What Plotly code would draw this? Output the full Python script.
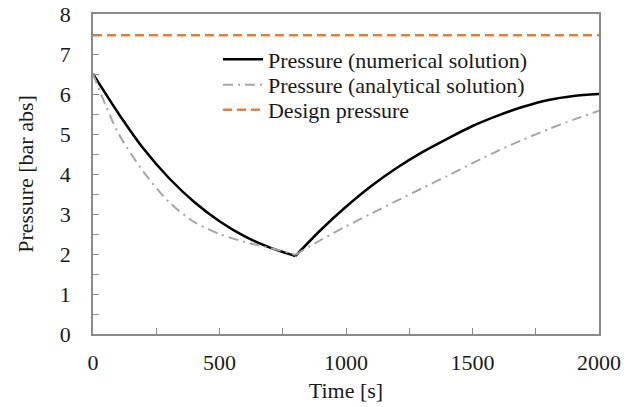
import plotly.graph_objects as go

# Numerical solution: time [s] and pressure [bar abs]
# (discharge phase up to 800 s, then recharge phase)
t_num_down = [0, 100, 200, 300, 400, 500, 600, 700, 800]
p_num_down = [6.5, 5.52, 4.63, 3.9, 3.3, 2.82, 2.44, 2.16, 1.95]
t_num_up = [800, 900, 1000, 1100, 1200, 1300, 1400, 1500, 1600, 1700, 1800, 1900, 2000]
p_num_up = [1.95, 2.6, 3.18, 3.7, 4.15, 4.54, 4.88, 5.2, 5.46, 5.68, 5.85, 5.95, 6.0]

# Analytical solution
t_ana_down = [0, 50, 100, 200, 300, 400, 500, 600, 700, 800]
p_ana_down = [6.5, 5.72, 5.02, 4.05, 3.3, 2.8, 2.5, 2.3, 2.15, 1.98]
t_ana_up = [800, 900, 1000, 1100, 1200, 1300, 1400, 1500, 1600, 1700, 1800, 1900, 2000]
p_ana_up = [1.98, 2.35, 2.69, 3.01, 3.33, 3.64, 3.95, 4.27, 4.58, 4.86, 5.12, 5.36, 5.58]

# Design pressure
t_design = [0, 2000]
p_design = [7.47, 7.47]

FONT = "Liberation Serif, Times New Roman, serif"
AXIS_GREY = "#8a8a8a"
FS = 22

num_line = dict(color="black", width=2.5, shape="spline", smoothing=0.8)
ana_line = dict(color="#a6a6a6", width=2, dash="10px,5px,2px,5px",
                shape="spline", smoothing=0.8)

fig = go.Figure()
fig.add_trace(go.Scatter(
    x=t_num_down, y=p_num_down, mode="lines", name="Pressure (numerical solution)",
    line=num_line, legend="legend", legendgroup="num"))
fig.add_trace(go.Scatter(
    x=t_num_up, y=p_num_up, mode="lines", name="Pressure (numerical solution)",
    line=num_line, legendgroup="num", showlegend=False))
fig.add_trace(go.Scatter(
    x=t_ana_down, y=p_ana_down, mode="lines", name="Pressure (analytical solution)",
    line=ana_line, legend="legend2", legendgroup="ana"))
fig.add_trace(go.Scatter(
    x=t_ana_up, y=p_ana_up, mode="lines", name="Pressure (analytical solution)",
    line=ana_line, legendgroup="ana", showlegend=False))
fig.add_trace(go.Scatter(
    x=t_design, y=p_design, mode="lines", name="Design pressure",
    line=dict(color="#ed7d31", width=2.5, dash="9px,5px"), legend="legend3"))

leg_common = dict(x=0.247, xanchor="left", yanchor="middle",
                  bgcolor="rgba(0,0,0,0)", font=dict(size=FS, family=FONT),
                  itemwidth=40)

fig.update_layout(
    width=635, height=407,
    margin=dict(l=93, r=36, t=14, b=73),
    paper_bgcolor="white", plot_bgcolor="white",
    font=dict(family=FONT, size=FS, color="#1a1a1a"),
    showlegend=True,
    legend=dict(y=0.858, **leg_common),
    legend2=dict(y=0.778, **leg_common),
    legend3=dict(y=0.70, **leg_common),
)
fig.update_xaxes(
    range=[0, 2000], dtick=500, tick0=0,
    ticks="inside", ticklen=6, tickcolor=AXIS_GREY,
    minor=dict(dtick=250, ticks="inside", ticklen=6, tickcolor=AXIS_GREY),
    showgrid=False, zeroline=False, automargin=False,
    showline=True, linecolor=AXIS_GREY, linewidth=1.5, mirror=True,
    ticklabelstandoff=8,
    title=dict(text="Time [s]", standoff=8, font=dict(size=FS, family=FONT)),
)
fig.update_yaxes(
    range=[0, 8], dtick=1, tick0=0,
    ticks="inside", ticklen=6, tickcolor=AXIS_GREY,
    minor=dict(dtick=0.5, ticks="inside", ticklen=6, tickcolor=AXIS_GREY),
    showgrid=False, zeroline=False, automargin=False,
    showline=True, linecolor=AXIS_GREY, linewidth=1.5, mirror=True,
    ticklabelstandoff=16,
    title=dict(text="Pressure [bar abs]", standoff=20, font=dict(size=FS, family=FONT)),
)

fig.write_html("out.html")
